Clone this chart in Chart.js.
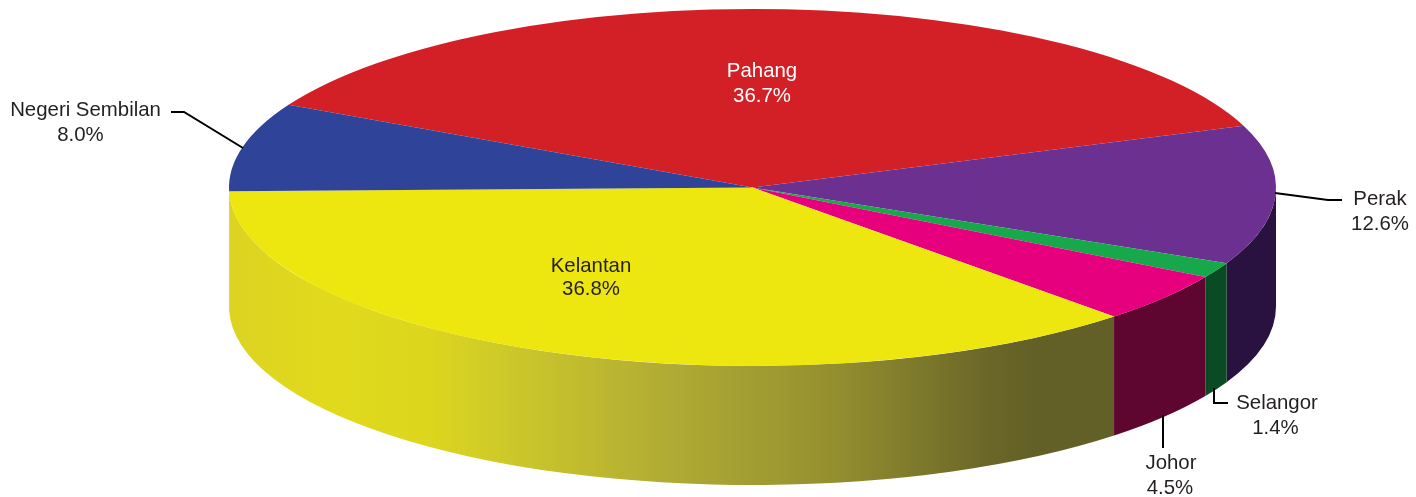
<!DOCTYPE html>
<html>
<head>
<meta charset="utf-8">
<style>html,body{margin:0;padding:0;background:#fff}canvas{display:block}</style>
<script src="https://cdn.jsdelivr.net/npm/chart.js@4/dist/chart.umd.js"></script>
</head>
<body>
<canvas id="c" width="1416" height="497"></canvas>
<script>
const categories = ["Pahang", "Perak", "Selangor", "Johor", "Kelantan", "Negeri Sembilan"];
const shares = [36.7, 12.6, 1.4, 4.5, 36.8, 8.0];
const percentLabels = ["36.7%", "12.6%", "1.4%", "4.5%", "36.8%", "8.0%"];
const topColours = ["#D32027", "#6C3090", "#17A84B", "#E6007E", "#EDE70F", "#2F4499"];
const wallColours = ["#7a1014", "#2A1240", "#0A4A25", "#5E0530", "gradient", "gradient"];

const disc = { cx: 752.5, cy: 187.5, rx: 523.5, ry: 178.5, depth: 119 };
const startRotation = -62.4;

// label anchors and leader lines, per category
const labelLayout = [
  { x: 762, y: 71, x2: 762, y2: 96, colour: "#ffffff", leader: null },
  { x: 1380, y: 199, x2: 1380, y2: 224, colour: "#231F20", leader: [[1275, 193], [1328, 200], [1342, 200]] },
  { x: 1277, y: 403, x2: 1275.5, y2: 428, colour: "#231F20", leader: [[1214, 388], [1214, 403], [1228, 403]] },
  { x: 1171, y: 463, x2: 1170, y2: 488, colour: "#231F20", leader: [[1163, 415], [1163, 448]] },
  { x: 591, y: 266, x2: 591, y2: 289, colour: "#231F20", leader: null },
  { x: 85.5, y: 110, x2: 80.5, y2: 135, colour: "#231F20", leader: [[171, 112], [184, 112], [243, 148]] }
];
const yellowStops = [
  [229, "#DCD322"], [330, "#E1DA1C"], [430, "#DCD61E"], [510, "#CCC82A"],
  [600, "#BDB82F"], [670, "#B0AB34"], [830, "#95902F"], [987, "#6B6728"],
  [1040, "#625F27"], [1115, "#625F27"]
];

const disc3d = {
  id: "disc3d",
  beforeDatasetsDraw(chart) {
    const ctx = chart.ctx, arcs = chart.getDatasetMeta(0).data;
    const { cx, cy, rx, ry, depth } = disc;
    const grad = ctx.createLinearGradient(229, 0, 1115, 0);
    yellowStops.forEach(([x, c]) => grad.addColorStop((x - 229) / (1115 - 229), c));
    arcs.forEach((arc, i) => {
      const a = Math.max(arc.startAngle, 0), b = Math.min(arc.endAngle, Math.PI);
      if (b <= a) return;
      ctx.beginPath();
      ctx.ellipse(cx, cy, rx, ry, 0, a, b);
      ctx.ellipse(cx, cy + depth, rx, ry, 0, b, a, true);
      ctx.closePath();
      ctx.fillStyle = wallColours[i] === "gradient" ? grad : wallColours[i];
      ctx.fill();
    });
    const r = arcs[0].outerRadius, x0 = arcs[0].x, y0 = arcs[0].y;
    ctx.save();
    ctx.translate(cx, cy);
    ctx.scale(rx / r, ry / r);
    ctx.translate(-x0, -y0);
  },
  afterDatasetsDraw(chart) {
    const ctx = chart.ctx;
    ctx.restore();
    ctx.font = "20.4px 'Liberation Sans', Arial, sans-serif";
    ctx.textAlign = "center";
    ctx.textBaseline = "middle";
    labelLayout.forEach((l, i) => {
      if (l.leader) {
        ctx.beginPath();
        l.leader.forEach(([x, y], k) => k ? ctx.lineTo(x, y) : ctx.moveTo(x, y));
        ctx.strokeStyle = "#000";
        ctx.lineWidth = 2;
        ctx.stroke();
      }
      ctx.fillStyle = l.colour;
      ctx.fillText(categories[i], l.x, l.y);
      ctx.fillText(percentLabels[i], l.x2, l.y2);
    });
  }
};

new Chart(document.getElementById("c"), {
  type: "pie",
  data: {
    labels: categories,
    datasets: [{ data: shares, backgroundColor: topColours, borderWidth: 0 }]
  },
  options: {
    responsive: false,
    animation: false,
    rotation: startRotation,
    layout: { padding: 0 },
    plugins: { legend: { display: false }, tooltip: { enabled: false } }
  },
  plugins: [disc3d]
});
</script>
</body>
</html>
